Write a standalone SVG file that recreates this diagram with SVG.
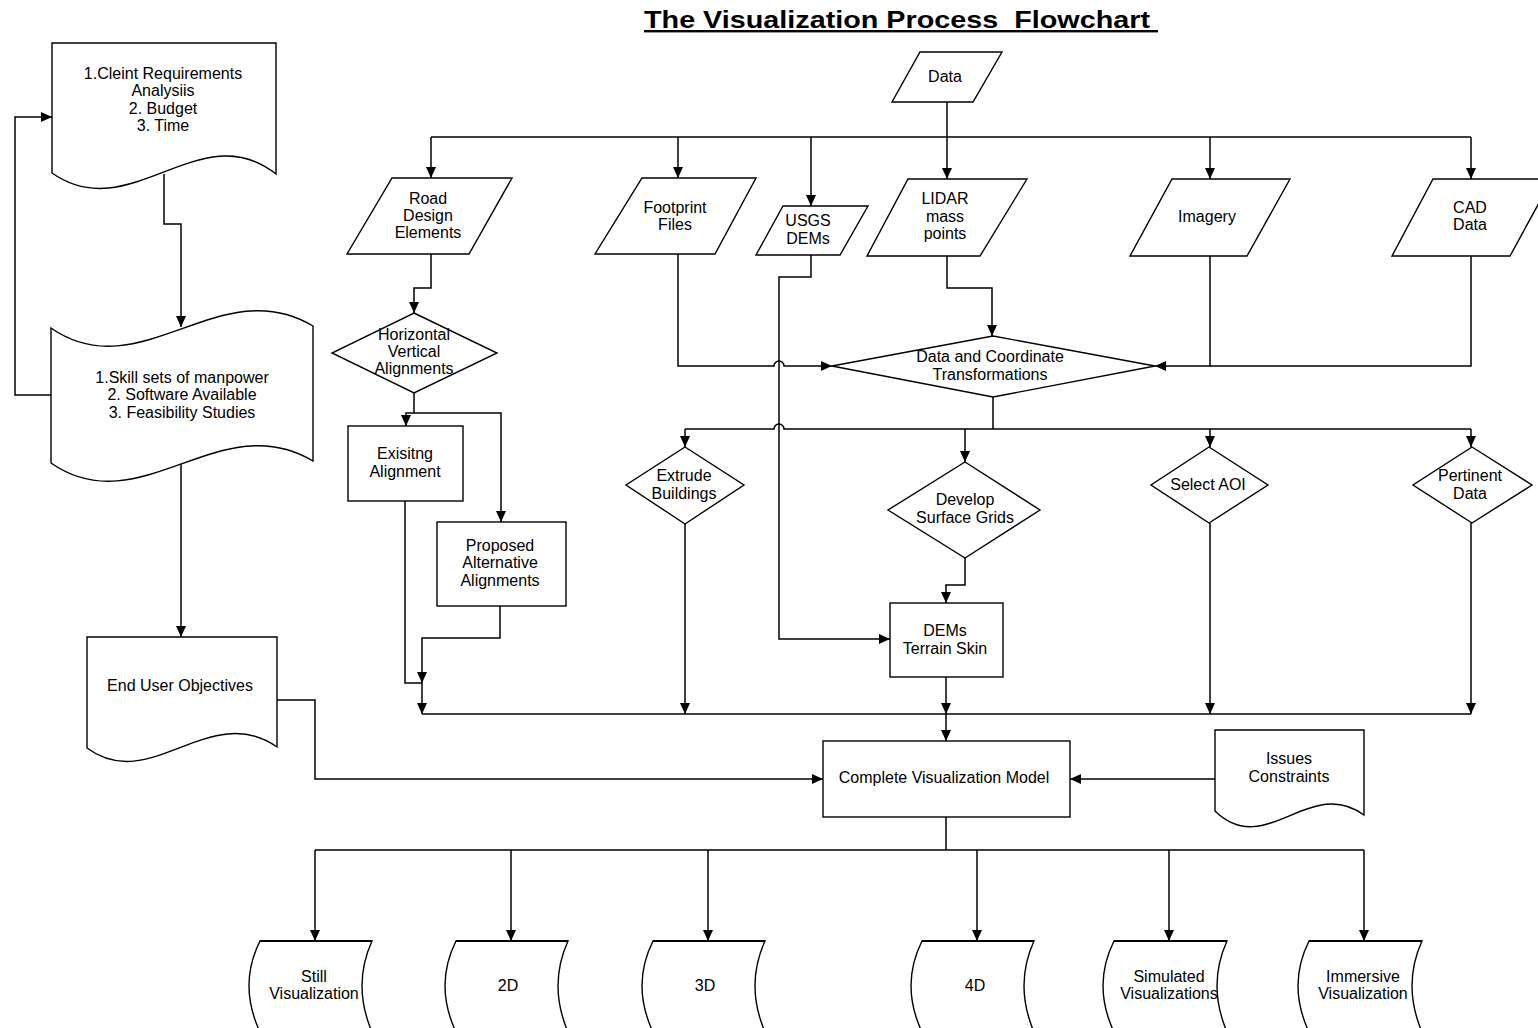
<svg xmlns="http://www.w3.org/2000/svg" width="1538" height="1028" viewBox="0 0 1538 1028">
<style>
.s{fill:#fff;stroke:#000;stroke-width:1.4}
.c{fill:none;stroke:#000;stroke-width:1.5}
.a{marker-end:url(#ah)}
text{font-family:"Liberation Sans",Arial,sans-serif;font-size:16px;fill:#000;text-anchor:middle}
.t{font-size:24px;font-weight:bold;text-decoration:underline;text-anchor:start}
.top{stroke:#000;stroke-width:2.2}
</style>
<defs>
<marker id="ah" markerUnits="userSpaceOnUse" markerWidth="11" markerHeight="10" refX="11" refY="5" orient="auto">
<path d="M0,0 L11,5 L0,10 z" fill="#000"/>
</marker>
</defs>
<rect width="1538" height="1028" fill="#fff"/>
<text class="t" x="644" y="28" textLength="514" lengthAdjust="spacingAndGlyphs">The Visualization Process&#160; Flowchart&#160;</text>

<g id="connectors">
<path class="c a" d="M164,174 V224 H181 V327"/>
<path class="c a" d="M51,395 H15 V117 H52"/>
<path class="c a" d="M181,464 V637"/>
<path class="c a" d="M277,700 H315 V779 H823"/>
<path class="c" d="M947,102 V137 M431,137 H1471"/>
<path class="c a" d="M431,137 V178"/>
<path class="c a" d="M678,137 V178"/>
<path class="c a" d="M811,137 V206"/>
<path class="c a" d="M947,137 V179"/>
<path class="c a" d="M1210,137 V179"/>
<path class="c a" d="M1471,137 V179"/>
<path class="c a" d="M431,254 V288 H414 V313"/>
<path class="c a" d="M414,393 V413 H406 V426"/>
<path class="c a" d="M414,413 H501 V522"/>
<path class="c" d="M405,501 V683 H422"/>
<path class="c a" d="M500,606 V638 H422 V683"/>
<path class="c a" d="M422,683 V714"/>
<path class="c" d="M422,714 H1471"/>
<path class="c a" d="M947,256 V288 H992 V336"/>
<path class="c a" d="M678,254 V366 H774 A5,5 0 0 1 784,366 H832"/>
<path class="c a" d="M1210,256 V366 H1155"/>
<path class="c" d="M1471,256 V366 H1210"/>
<path class="c a" d="M811,255 V277 H779 V639 H890"/>
<path class="c" d="M993,397 V429 M685,429 H774 A5,5 0 0 1 784,429 H1471"/>
<path class="c a" d="M685,429 V447"/>
<path class="c a" d="M965,429 V462"/>
<path class="c a" d="M1210,429 V447"/>
<path class="c a" d="M1471,429 V447"/>
<path class="c a" d="M965,558 V585 H946 V603"/>
<path class="c a" d="M685,524 V714"/>
<path class="c a" d="M946,677 V714"/>
<path class="c a" d="M1210,523 V714"/>
<path class="c a" d="M1471,523 V714"/>
<path class="c a" d="M946,714 V741"/>
<path class="c a" d="M1215,779 H1070"/>
<path class="c" d="M946,817 V850 M315,850 H1364"/>
<path class="c a" d="M315,850 V941"/>
<path class="c a" d="M511,850 V941"/>
<path class="c a" d="M708,850 V941"/>
<path class="c a" d="M977,850 V941"/>
<path class="c a" d="M1169,850 V941"/>
<path class="c a" d="M1364,850 V941"/>
</g>

<g id="client-req">
<path class="s" d="M52,43 H276 V174 C200,114 130,228 52,173 Z"/>
<text x="163" y="79">1.Cleint Requirements</text>
<text x="163" y="96">Analysiis</text>
<text x="163" y="114">2. Budget</text>
<text x="163" y="131">3. Time</text>
</g>
<g id="skill-sets">
<path class="s" d="M51,328 C140,390 220,270 313,326 V461 C220,405 140,525 51,463 Z"/>
<text x="182" y="383">1.Skill sets of manpower</text>
<text x="182" y="400">2. Software Available</text>
<text x="182" y="418">3. Feasibility Studies</text>
</g>
<g id="end-user">
<path class="s" d="M87,637 H277 V747 C210,700 150,795 87,748 Z"/>
<text x="180" y="691">End User Objectives</text>
</g>
<g id="data">
<polygon class="s" points="920,52 1002,52 973,102 892,102"/>
<text x="945" y="82">Data</text>
</g>
<g id="road-design">
<polygon class="s" points="392,178 512,178 469,254 347,254"/>
<text x="428" y="204">Road</text>
<text x="428" y="221">Design</text>
<text x="428" y="238">Elements</text>
</g>
<g id="footprint">
<polygon class="s" points="642,178 756,178 715,254 595,254"/>
<text x="675" y="213">Footprint</text>
<text x="675" y="230">Files</text>
</g>
<g id="usgs">
<polygon class="s" points="783,206 868,206 840,255 756,255"/>
<text x="808" y="226">USGS</text>
<text x="808" y="244">DEMs</text>
</g>
<g id="lidar">
<polygon class="s" points="908,179 1027,179 980,256 867,256"/>
<text x="945" y="204">LIDAR</text>
<text x="945" y="222">mass</text>
<text x="945" y="239">points</text>
</g>
<g id="imagery">
<polygon class="s" points="1172,179 1290,179 1247,256 1130,256"/>
<text x="1207" y="222">Imagery</text>
</g>
<g id="cad">
<polygon class="s" points="1433,179 1552,179 1510,256 1392,256"/>
<text x="1470" y="213">CAD</text>
<text x="1470" y="230">Data</text>
</g>
<g id="hv-align">
<polygon class="s" points="414,313 497,353 414,393 332,353"/>
<text x="414" y="340">Horizontal</text>
<text x="414" y="357">Vertical</text>
<text x="414" y="374">Alignments</text>
</g>
<g id="existing">
<rect class="s" x="348" y="426" width="115" height="75"/>
<text x="405" y="459">Exisitng</text>
<text x="405" y="477">Alignment</text>
</g>
<g id="proposed">
<rect class="s" x="437" y="522" width="129" height="84"/>
<text x="500" y="551">Proposed</text>
<text x="500" y="568">Alternative</text>
<text x="500" y="586">Alignments</text>
</g>
<g id="transform">
<polygon class="s" points="993,336 1155,366 993,397 832,366"/>
<text x="990" y="362">Data and Coordinate</text>
<text x="990" y="380">Transformations</text>
</g>
<g id="extrude">
<polygon class="s" points="685,447 744,485 685,524 626,485"/>
<text x="684" y="481">Extrude</text>
<text x="684" y="499">Buildings</text>
</g>
<g id="develop">
<polygon class="s" points="965,462 1040,510 965,558 888,510"/>
<text x="965" y="505">Develop</text>
<text x="965" y="523">Surface Grids</text>
</g>
<g id="select-aoi">
<polygon class="s" points="1209,447 1268,485 1209,523 1151,485"/>
<text x="1208" y="490">Select AOI</text>
</g>
<g id="pertinent">
<polygon class="s" points="1472,447 1532,485 1472,523 1413,485"/>
<text x="1470" y="481">Pertinent</text>
<text x="1470" y="499">Data</text>
</g>
<g id="dems-skin">
<rect class="s" x="890" y="603" width="113" height="74"/>
<text x="945" y="636">DEMs</text>
<text x="945" y="654">Terrain Skin</text>
</g>
<g id="complete">
<rect class="s" x="823" y="741" width="247" height="76"/>
<text x="944" y="783">Complete Visualization Model</text>
</g>
<g id="issues">
<path class="s" d="M1215,730 H1364 V815 C1310,775 1265,860 1215,811 Z"/>
<text x="1289" y="764">Issues</text>
<text x="1289" y="782">Constraints</text>
</g>
<g id="still">
<path class="s" d="M260,941 H372 Q352,985 372,1032 H260 Q238,985 260,941 Z"/>
<path class="top" d="M260,941 H372"/>
<text x="314" y="982">Still</text>
<text x="314" y="999">Visualization</text>
</g>
<g id="d2">
<path class="s" d="M456,941 H568 Q548,985 568,1032 H456 Q434,985 456,941 Z"/>
<path class="top" d="M456,941 H568"/>
<text x="508" y="991">2D</text>
</g>
<g id="d3">
<path class="s" d="M653,941 H765 Q745,985 765,1032 H653 Q631,985 653,941 Z"/>
<path class="top" d="M653,941 H765"/>
<text x="705" y="991">3D</text>
</g>
<g id="d4">
<path class="s" d="M922,941 H1034 Q1014,985 1034,1032 H922 Q900,985 922,941 Z"/>
<path class="top" d="M922,941 H1034"/>
<text x="975" y="991">4D</text>
</g>
<g id="simulated">
<path class="s" d="M1114,941 H1227 Q1207,985 1227,1032 H1114 Q1092,985 1114,941 Z"/>
<path class="top" d="M1114,941 H1227"/>
<text x="1169" y="982">Simulated</text>
<text x="1169" y="999">Visualizations</text>
</g>
<g id="immersive">
<path class="s" d="M1309,941 H1422 Q1402,985 1422,1032 H1309 Q1287,985 1309,941 Z"/>
<path class="top" d="M1309,941 H1422"/>
<text x="1363" y="982">Immersive</text>
<text x="1363" y="999">Visualization</text>
</g>
</svg>
